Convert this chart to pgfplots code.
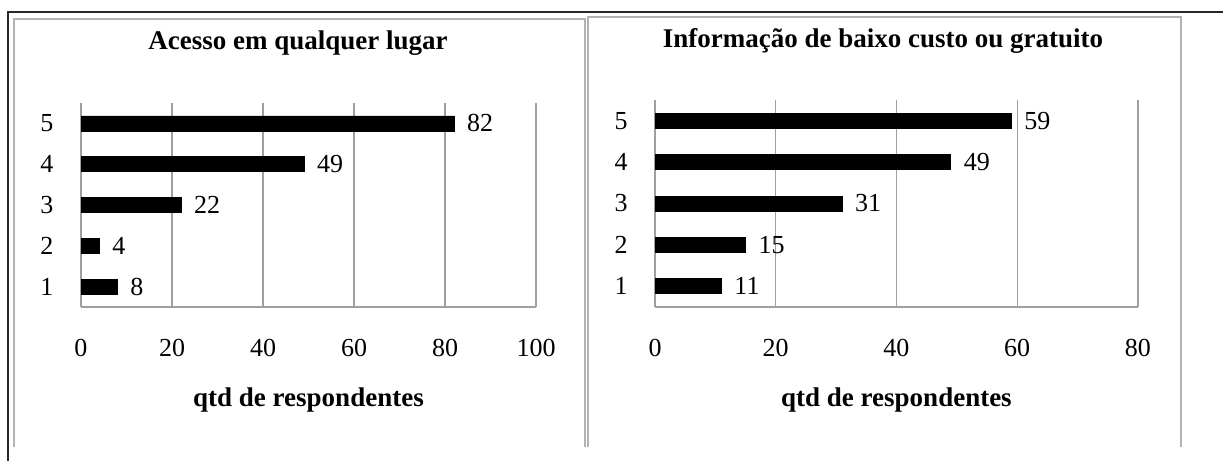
\documentclass[border=0pt]{standalone}
\usepackage{pgfplots}
\pgfplotsset{compat=1.18}
\usepackage{fontspec}
\setmainfont{Liberation Serif}

\pgfplotsset{
  panel/.style={
    xbar, scale only axis,
    ymin=0.5, ymax=5.5, xmin=0,
    ytick={1,2,3,4,5},
    axis x line*=bottom, axis y line*=left,
    axis line style={draw=gray!75, line width=0.6pt, -},
    xmajorgrids, grid style={draw=gray!75, line width=0.6pt},
    major tick length=0pt,
    bar width=7.5pt,
    /pgf/number format/assume math mode=true,
    tick label style={font=\fontsize{13}{15}\selectfont},
    xticklabel style={anchor=center, yshift=-20.5pt},
    yticklabel style={anchor=center, xshift=-17pt},
    nodes near coords,
    nodes near coords style={anchor=west, xshift=3pt, font=\fontsize{13}{15}\selectfont, text=black},
    title style={anchor=center, font=\fontsize{13.5}{15}\selectfont\bfseries},
    xlabel style={anchor=center, font=\fontsize{13.5}{15}\selectfont\bfseries},
  },
  blackbar/.style={draw=black, fill=black},
}

\begin{document}
\begin{tikzpicture}
\useasboundingbox (0,0) rectangle (611.5pt,230.5pt);

% outer frame and panel frames
\draw[black!85, line width=1.1pt] (4pt,0pt) -- (4pt,224.5pt) -- (611.5pt,224.5pt);
\draw[gray!60, line width=0.6pt] (7pt,7pt) -- (7pt,221pt) -- (292.5pt,221pt) -- (292.5pt,7pt);
\draw[gray!60, line width=0.6pt] (294pt,7pt) -- (294pt,222pt) -- (590.5pt,222pt) -- (590.5pt,7pt);

% left panel
\begin{axis}[panel,
  at={(40.5pt,77pt)}, anchor=south west,
  width=227.5pt, height=102pt,
  xmax=100, xtick={0,20,40,60,80,100},
  title={Acesso em qualquer lugar},
  title style={at={(axis description cs:0.477,1.235)}},
  xlabel={qtd de respondentes},
  xlabel style={at={(axis description cs:0.5,-0.456)}},
]
\addplot[blackbar] coordinates {(8,1) (4,2) (22,3) (49,4) (82,5)};
\end{axis}

% right panel
\begin{axis}[panel,
  at={(327.5pt,77pt)}, anchor=south west,
  width=241.5pt, height=103.5pt,
  xmax=80, xtick={0,20,40,60,80},
  title={Informação de baixo custo ou gratuito},
  title style={at={(axis description cs:0.472,1.227)}},
  xlabel={qtd de respondentes},
  xlabel style={at={(axis description cs:0.5,-0.449)}},
]
\addplot[blackbar] coordinates {(11,1) (15,2) (31,3) (49,4) (59,5)};
\end{axis}
\end{tikzpicture}
\end{document}
